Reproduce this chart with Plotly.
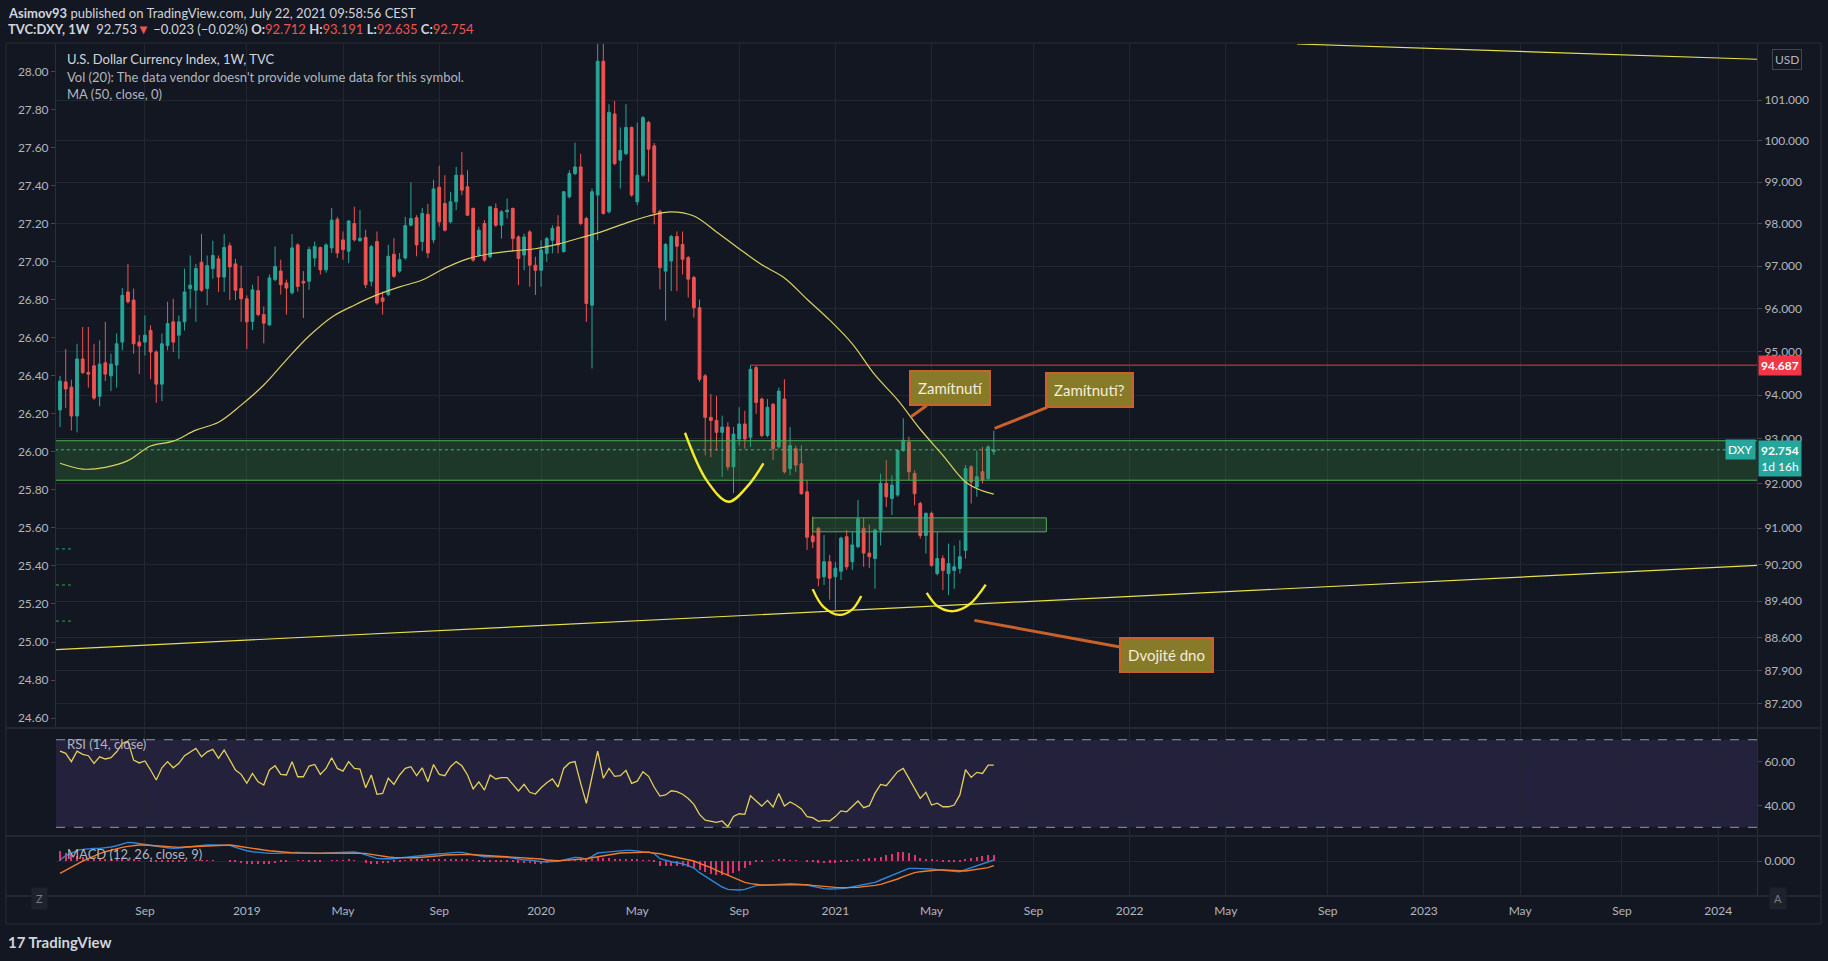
import math
import pandas as pd
import plotly.graph_objects as go

BG = "#131722"
GRID = "#222633"
FRAME = "#2a2e39"
UP = "#26a69a"
DOWN = "#ef5350"
TXT = "#b2b5be"

# weekly DXY candles, 2018-05-21 .. 2021-07-19
FIRST_WEEK = "2018-05-21"
N_WEEKS = 166

opens = [
    93.66, 94.30, 94.18, 93.52, 94.83, 94.52, 94.67, 93.97, 94.74, 94.44,
    94.69, 95.22, 96.39, 96.20, 95.22, 95.22, 95.49, 94.99, 94.25, 95.14,
    95.69, 95.38, 95.69, 96.47, 96.43, 97.09, 96.47, 96.94, 97.17, 96.74,
    97.48, 97.05, 96.47, 96.23, 95.70, 96.42, 95.86, 95.62, 96.68, 96.88,
    96.60, 96.37, 97.50, 96.64, 96.64, 97.19, 97.44, 96.91, 97.43, 98.11,
    97.62, 97.35, 98.01, 97.60, 97.68, 96.64, 97.58, 96.25, 96.33, 97.28,
    96.88, 97.19, 97.97, 98.15, 97.58, 98.23, 97.62, 98.88, 98.49, 98.05,
    98.53, 99.17, 98.89, 98.37, 97.26, 98.01, 97.22, 98.37, 97.97, 98.29,
    98.37, 97.69, 97.26, 97.81, 97.02, 96.90, 97.30, 97.61, 97.93, 97.34,
    98.65, 99.21, 99.37, 98.13, 96.08, 98.69, 101.96, 98.29, 100.66, 99.53,
    99.69, 100.33, 98.53, 99.17, 100.45, 99.88, 98.30, 96.88, 97.12, 97.70,
    97.51, 97.20, 96.73, 96.02, 94.44, 93.49, 93.42, 93.15, 93.27, 92.37,
    93.00, 93.34, 93.04, 94.63, 93.91, 93.08, 93.79, 92.82, 93.91, 92.33,
    92.78, 92.44, 91.81, 90.83, 91.00, 89.93, 90.26, 89.93, 90.05, 90.81,
    90.26, 90.59, 91.00, 90.45, 90.33, 90.96, 92.00, 91.66, 91.74, 92.74,
    92.93, 92.22, 91.55, 90.84, 91.33, 90.00, 90.33, 90.00, 90.07, 90.11,
    90.51, 92.37, 91.92, 92.26, 92.11, 92.712,
]
highs = [
    94.44, 95.06, 94.35, 95.18, 95.57, 95.57, 95.18, 95.26, 95.69, 94.95,
    95.42, 96.48, 97.05, 96.47, 95.38, 95.84, 95.61, 95.03, 95.42, 96.16,
    96.23, 95.84, 96.94, 97.25, 97.05, 97.76, 97.25, 97.60, 97.25, 97.76,
    97.56, 97.17, 97.01, 96.31, 96.56, 96.76, 96.05, 96.80, 97.46, 97.15,
    96.68, 97.76, 97.54, 96.88, 97.46, 97.58, 97.46, 97.54, 98.38, 98.17,
    97.82, 98.09, 98.41, 98.33, 97.86, 97.50, 97.82, 96.40, 97.50, 97.66,
    97.31, 98.17, 99.00, 98.21, 98.38, 98.48, 99.06, 99.40, 99.17, 98.77,
    99.37, 99.73, 99.29, 98.39, 97.93, 98.09, 98.43, 98.49, 98.33, 98.61,
    98.39, 97.73, 97.77, 97.85, 97.22, 97.61, 97.69, 97.97, 98.21, 98.79,
    99.29, 99.96, 99.69, 98.17, 98.85, 102.99, 102.41, 100.90, 100.98, 100.33,
    100.90, 100.35, 100.45, 100.61, 100.49, 99.95, 98.34, 97.55, 97.74, 97.82,
    97.82, 97.24, 96.77, 96.21, 94.48, 94.02, 93.98, 93.53, 93.38, 93.27,
    93.72, 93.64, 94.687, 94.67, 93.94, 93.91, 93.82, 94.17, 94.36, 93.27,
    92.85, 92.85, 92.07, 91.26, 91.02, 90.85, 90.41, 90.26, 90.81, 90.96,
    90.92, 91.63, 91.23, 91.08, 90.99, 92.22, 92.52, 92.18, 92.76, 93.47,
    93.05, 92.29, 91.59, 91.35, 91.37, 90.92, 90.40, 90.66, 90.62, 90.73,
    92.41, 92.41, 92.74, 92.82, 92.86, 93.191,
]
lows = [
    93.27, 93.70, 93.19, 93.15, 94.48, 94.17, 93.89, 93.74, 94.32, 94.09,
    94.17, 95.03, 96.12, 94.95, 94.48, 94.91, 94.36, 93.82, 93.86, 95.03,
    94.99, 94.83, 95.49, 96.00, 95.69, 96.39, 96.08, 96.70, 96.39, 96.39,
    96.20, 96.20, 95.69, 95.06, 95.50, 95.82, 95.19, 95.60, 96.64, 96.33,
    95.86, 96.33, 96.40, 95.78, 96.44, 96.99, 96.80, 96.84, 97.31, 97.19,
    97.15, 97.07, 97.58, 97.58, 96.48, 96.52, 96.09, 95.86, 96.29, 96.72,
    96.84, 97.15, 97.94, 97.23, 97.35, 97.19, 97.54, 97.94, 97.82, 98.01,
    98.33, 98.69, 98.19, 97.10, 97.22, 97.10, 97.18, 97.93, 97.65, 98.13,
    97.34, 96.55, 96.90, 96.51, 96.32, 96.51, 97.10, 97.30, 97.30, 97.32,
    98.61, 99.17, 97.97, 95.69, 94.61, 97.61, 98.22, 98.25, 99.41, 98.85,
    99.65, 98.65, 98.45, 99.13, 99.01, 97.99, 96.45, 95.72, 96.41, 96.41,
    96.80, 96.26, 95.79, 94.30, 92.63, 92.59, 92.74, 92.14, 92.29, 91.78,
    92.85, 92.78, 92.82, 93.57, 93.04, 93.04, 92.52, 92.78, 92.22, 92.18,
    92.26, 91.74, 90.52, 90.56, 89.72, 89.75, 89.43, 89.21, 89.86, 90.08,
    90.08, 90.56, 90.15, 90.12, 89.67, 90.62, 91.47, 91.29, 91.70, 92.71,
    92.07, 91.51, 90.77, 90.44, 90.15, 89.96, 89.64, 89.53, 89.67, 90.00,
    90.33, 91.55, 91.70, 92.00, 92.07, 92.635,
]
closes = [
    94.32, 94.14, 93.52, 94.83, 94.52, 94.48, 93.93, 94.71, 94.48, 94.71,
    95.18, 96.31, 96.16, 95.18, 95.13, 95.38, 94.99, 94.25, 95.18, 95.65,
    95.22, 95.69, 96.39, 96.55, 96.94, 96.43, 97.01, 97.25, 96.74, 97.44,
    96.98, 96.43, 96.23, 95.69, 96.44, 95.86, 95.66, 96.72, 96.99, 96.56,
    96.48, 97.43, 96.52, 96.60, 97.39, 97.46, 96.91, 97.50, 98.09, 97.31,
    97.39, 98.07, 97.62, 97.66, 96.56, 97.46, 96.13, 96.17, 97.23, 96.76,
    97.15, 97.96, 98.13, 97.50, 98.25, 97.31, 98.84, 98.05, 97.85, 98.53,
    99.17, 98.81, 98.21, 97.14, 97.85, 97.14, 98.41, 97.97, 98.29, 98.33,
    97.65, 97.18, 97.69, 97.02, 96.90, 97.38, 97.65, 97.89, 97.50, 98.77,
    99.21, 99.37, 98.01, 96.12, 98.77, 101.96, 98.25, 100.70, 99.45, 99.77,
    100.33, 98.69, 99.17, 100.57, 99.80, 98.27, 96.96, 97.51, 97.70, 97.47,
    97.16, 96.69, 96.02, 94.36, 93.49, 93.42, 93.15, 93.27, 92.37, 93.11,
    93.34, 93.00, 94.59, 93.83, 93.08, 93.72, 92.78, 94.09, 92.26, 92.85,
    92.41, 91.77, 90.80, 90.70, 89.90, 90.26, 89.90, 90.12, 90.78, 90.15,
    90.63, 91.21, 90.45, 90.37, 90.96, 92.00, 91.70, 91.96, 92.74, 92.97,
    92.26, 91.77, 90.84, 91.33, 90.18, 90.33, 90.07, 90.22, 90.15, 90.37,
    92.33, 92.03, 92.15, 92.07, 92.82, 92.754,
]

# MA(50) read at every 4th candle (1-based candle numbers)
ma_candles = list(range(1, 162, 4)) + [164, 166]
ma_values = [
    92.45, 92.32, 92.36, 92.51, 92.84, 92.95, 93.20, 93.38, 93.77, 94.23,
    94.81, 95.36, 95.80, 96.08, 96.32, 96.51, 96.67, 96.95, 97.17, 97.29,
    97.36, 97.41, 97.52, 97.67, 97.83, 98.02, 98.19, 98.29, 98.19, 97.81,
    97.41, 97.03, 96.72, 96.22, 95.73, 95.18, 94.46, 93.89, 93.22, 92.63,
    92.03, 91.83, 91.76,
]

rsi = [
    64.8, 63.8, 60.0, 64.8, 63.3, 62.7, 59.2, 62.2, 61.2, 61.8,
    64.5, 68.3, 69.4, 60.7, 59.4, 60.3, 56.2, 51.6, 57.2, 60.0,
    57.2, 59.2, 62.7, 64.5, 66.0, 62.2, 64.5, 65.6, 61.5, 65.3,
    60.7, 56.2, 54.2, 50.1, 54.6, 50.8, 49.3, 56.2, 58.1, 54.2,
    53.9, 60.0, 53.1, 53.1, 58.0, 58.7, 54.2, 56.9, 61.8, 56.9,
    55.7, 60.0, 56.9, 56.6, 48.1, 53.9, 45.1, 45.5, 52.4, 49.6,
    53.9, 56.9, 57.7, 53.6, 57.2, 50.8, 58.7, 54.2, 53.6, 57.7,
    60.0, 58.1, 53.9, 47.5, 50.8, 47.0, 53.9, 52.1, 52.7, 52.7,
    49.6, 46.6, 49.6, 46.0, 45.2, 48.1, 50.4, 52.1, 48.4, 56.9,
    59.4, 60.0, 50.1, 41.0, 53.1, 64.8, 52.4, 56.9, 53.3, 53.6,
    56.0, 50.1, 51.1, 55.4, 53.3, 48.3, 44.3, 44.8, 46.7, 46.3,
    45.1, 43.2, 40.5, 35.9, 33.3, 32.9, 32.3, 32.9, 30.3, 35.0,
    36.2, 35.9, 44.4, 42.0, 39.7, 42.3, 39.3, 45.4, 39.7, 41.6,
    40.2, 38.4, 34.9, 34.4, 32.7, 33.2, 32.9, 34.9, 37.5, 37.1,
    39.7, 42.0, 39.0, 39.9, 45.5, 49.6, 49.0, 52.1, 55.4, 56.9,
    52.1, 47.8, 43.2, 46.0, 40.2, 41.0, 39.4, 39.4, 40.2, 44.8,
    56.3, 52.8, 55.1, 54.6, 58.4, 58.4,
]

macd = [
    0.03, 0.16, 0.23, 0.32, 0.35, 0.37, 0.38, 0.38, 0.39, 0.42,
    0.46, 0.52, 0.56, 0.55, 0.52, 0.49, 0.47, 0.44, 0.42, 0.40,
    0.38, 0.39, 0.41, 0.43, 0.45, 0.47, 0.48, 0.48, 0.48, 0.48,
    0.47, 0.41, 0.35, 0.31, 0.28, 0.26, 0.24, 0.23, 0.23, 0.23,
    0.24, 0.25, 0.26, 0.25, 0.23, 0.23, 0.23, 0.24, 0.25, 0.26,
    0.27, 0.28, 0.27, 0.24, 0.18, 0.12, 0.08, 0.07, 0.06, 0.07,
    0.09, 0.11, 0.13, 0.16, 0.17, 0.18, 0.20, 0.22, 0.23, 0.25,
    0.26, 0.26, 0.23, 0.20, 0.16, 0.13, 0.13, 0.13, 0.12, 0.11,
    0.09, 0.06, 0.03, 0.03, 0.00, -0.02, -0.02, -0.02, -0.01, 0.03,
    0.07, 0.11, 0.10, 0.05, 0.14, 0.24, 0.26, 0.28, 0.29, 0.31,
    0.32, 0.32, 0.29, 0.28, 0.27, 0.22, 0.07, 0.02, -0.02, -0.05,
    -0.08, -0.14, -0.21, -0.35, -0.46, -0.58, -0.69, -0.78, -0.85, -0.86,
    -0.87, -0.85, -0.79, -0.74, -0.73, -0.72, -0.71, -0.68, -0.67, -0.68,
    -0.69, -0.70, -0.72, -0.76, -0.80, -0.83, -0.84, -0.84, -0.83, -0.81,
    -0.78, -0.74, -0.71, -0.68, -0.64, -0.57, -0.50, -0.42, -0.34, -0.28,
    -0.22, -0.22, -0.22, -0.23, -0.24, -0.26, -0.28, -0.30, -0.31, -0.32,
    -0.26, -0.20, -0.14, -0.08, -0.02, 0.03,
]
signal = [
    -0.37, -0.27, -0.18, -0.09, 0.00, 0.08, 0.15, 0.22, 0.28, 0.33,
    0.37, 0.41, 0.44, 0.47, 0.48, 0.48, 0.47, 0.45, 0.43, 0.42,
    0.41, 0.41, 0.42, 0.43, 0.44, 0.45, 0.46, 0.47, 0.48, 0.48,
    0.48, 0.46, 0.43, 0.40, 0.37, 0.35, 0.33, 0.31, 0.29, 0.27,
    0.26, 0.25, 0.24, 0.24, 0.24, 0.24, 0.24, 0.24, 0.24, 0.24,
    0.25, 0.25, 0.25, 0.24, 0.23, 0.20, 0.17, 0.14, 0.12, 0.11,
    0.10, 0.10, 0.10, 0.10, 0.11, 0.12, 0.14, 0.16, 0.18, 0.19,
    0.20, 0.20, 0.20, 0.19, 0.18, 0.17, 0.16, 0.15, 0.14, 0.13,
    0.12, 0.11, 0.10, 0.10, 0.08, 0.06, 0.03, 0.01, 0.01, 0.02,
    0.03, 0.04, 0.05, 0.07, 0.10, 0.13, 0.16, 0.20, 0.22, 0.24,
    0.25, 0.26, 0.26, 0.26, 0.26, 0.25, 0.22, 0.18, 0.14, 0.11,
    0.08, 0.04, 0.00, -0.07, -0.13, -0.20, -0.28, -0.35, -0.43, -0.50,
    -0.58, -0.64, -0.68, -0.71, -0.72, -0.72, -0.72, -0.72, -0.71, -0.70,
    -0.70, -0.70, -0.71, -0.73, -0.75, -0.77, -0.79, -0.79, -0.80, -0.80,
    -0.80, -0.79, -0.77, -0.76, -0.73, -0.70, -0.65, -0.60, -0.54, -0.47,
    -0.40, -0.35, -0.32, -0.30, -0.28, -0.27, -0.27, -0.27, -0.28, -0.29,
    -0.30, -0.28, -0.26, -0.23, -0.20, -0.14,
]
hist = [
    0.30, 0.25, 0.20, 0.15, 0.12, 0.10, 0.08, 0.06, 0.04, 0.03,
    0.03, 0.04, 0.04, 0.03, 0.01, 0.00, -0.01, -0.01, -0.01, -0.01,
    -0.02, -0.02, -0.01, 0.00, 0.01, 0.02, 0.02, 0.01, 0.00, 0.00,
    -0.01, -0.04, -0.07, -0.09, -0.09, -0.09, -0.09, -0.08, -0.06, -0.04,
    -0.02, 0.00, 0.02, 0.01, -0.01, -0.01, -0.01, 0.00, 0.01, 0.02,
    0.02, 0.03, 0.02, 0.00, -0.05, -0.08, -0.09, -0.07, -0.06, -0.04,
    -0.01, 0.01, 0.03, 0.06, 0.06, 0.06, 0.06, 0.06, 0.05, 0.06,
    0.06, 0.06, 0.03, 0.01, -0.02, -0.04, -0.03, -0.02, -0.02, -0.02,
    -0.03, -0.05, -0.07, -0.07, -0.08, -0.08, -0.05, -0.03, -0.02, 0.01,
    0.04, 0.07, 0.05, -0.02, 0.04, 0.11, 0.10, 0.08, 0.07, 0.07,
    0.07, 0.06, 0.03, 0.02, 0.01, -0.03, -0.15, -0.16, -0.16, -0.16,
    -0.16, -0.18, -0.21, -0.28, -0.33, -0.38, -0.41, -0.43, -0.42, -0.36,
    -0.29, -0.21, -0.11, -0.03, -0.01, 0.00, 0.01, 0.04, 0.04, 0.02,
    0.01, 0.00, -0.01, -0.03, -0.05, -0.06, -0.05, -0.05, -0.03, -0.01,
    0.02, 0.05, 0.06, 0.08, 0.09, 0.13, 0.17, 0.22, 0.26, 0.27,
    0.24, 0.17, 0.10, 0.07, 0.04, 0.01, -0.01, -0.03, -0.03, -0.03,
    0.04, 0.08, 0.12, 0.15, 0.18, 0.17,
]

# drawn levels / zones / trend lines
X_RANGE = ["2018-05-16", "2024-02-18"]
PRICE_RANGE = [86.70, 102.39]
LEFT_RANGE = [24.553, 28.146]
RESIST = 94.687
LAST = 92.754
ZONE = [92.07, 92.96]
SMALL_ZONE = [90.92, 91.23]
SMALL_ZONE_X = ["2020-12-07", "2021-09-22"]
RED_START = "2020-09-21"
TREND_LOW_X = ["2018-05-16", "2024-02-18"]
TREND_LOW_Y = [88.35, 90.18]
TREND_TOP_X = ["2022-07-29", "2024-02-18"]
TREND_TOP_Y = [102.39, 102.01]
LEFT_MARKS = [25.49, 25.30, 25.11]
ARCS = [
    (["2020-07-02", "2020-07-29", "2020-08-25", "2020-09-18", "2020-10-07"],
     [93.14, 92.06, 91.59, 91.95, 92.45]),
    (["2020-12-07", "2020-12-20", "2021-01-09", "2021-01-25", "2021-02-05"],
     [89.66, 89.28, 89.10, 89.22, 89.51]),
    (["2021-04-27", "2021-05-11", "2021-05-30", "2021-06-19", "2021-07-09"],
     [89.58, 89.28, 89.18, 89.33, 89.76]),
]

price_ticks = [87.2, 87.9, 88.6, 89.4, 90.2, 91, 92, 93, 94, 95, 96, 97, 98, 99, 100, 101]
left_ticks = [round(24.6 + 0.2 * i, 2) for i in range(18)]
time_ticks = ["2018-09-03", "2019-01-07", "2019-05-06", "2019-09-02", "2020-01-06", "2020-05-04",
              "2020-09-07", "2021-01-04", "2021-05-03", "2021-09-06", "2022-01-03", "2022-05-02",
              "2022-09-05", "2023-01-02", "2023-05-01", "2023-09-04", "2024-01-01"]
time_labels = ["Sep", "2019", "May", "Sep", "2020", "May", "Sep", "2021", "May", "Sep",
               "2022", "May", "Sep", "2023", "May", "Sep", "2024"]

dates = pd.date_range(FIRST_WEEK, periods=N_WEEKS, freq="7D")
ma_dates = [dates[i - 1] for i in ma_candles]

fig = go.Figure()

# zones drawn first so candles sit on top
zone_fill = "rgba(56,142,60,0.28)"
fig.add_trace(go.Scatter(x=["2018-01-01", "2025-01-01", "2025-01-01", "2018-01-01", "2018-01-01"],
                         y=[ZONE[0], ZONE[0], ZONE[1], ZONE[1], ZONE[0]], mode="lines",
                         fill="toself", fillcolor=zone_fill,
                         line=dict(color="#4caf50", width=1), hoverinfo="skip"))
fig.add_trace(go.Scatter(x=[SMALL_ZONE_X[0], SMALL_ZONE_X[1], SMALL_ZONE_X[1], SMALL_ZONE_X[0], SMALL_ZONE_X[0]],
                         y=[SMALL_ZONE[0], SMALL_ZONE[0], SMALL_ZONE[1], SMALL_ZONE[1], SMALL_ZONE[0]],
                         mode="lines", fill="toself", fillcolor=zone_fill,
                         line=dict(color="#4caf50", width=1), hoverinfo="skip"))
fig.add_trace(go.Scatter(x=["2018-01-01", "2025-01-01"], y=[LAST, LAST], mode="lines",
                         line=dict(color="#3fb68b", width=1, dash="dot"), hoverinfo="skip"))
fig.add_trace(go.Scatter(x=[RED_START, "2025-01-01"], y=[RESIST, RESIST], mode="lines",
                         line=dict(color="#f23645", width=1), hoverinfo="skip"))
fig.add_trace(go.Scatter(x=TREND_LOW_X, y=TREND_LOW_Y, mode="lines",
                         line=dict(color="#e8e04a", width=1.2), hoverinfo="skip"))
fig.add_trace(go.Scatter(x=TREND_TOP_X, y=TREND_TOP_Y, mode="lines",
                         line=dict(color="#e8e04a", width=1.2), hoverinfo="skip"))

fig.add_trace(go.Candlestick(
    x=dates, open=opens, high=highs, low=lows, close=closes,
    increasing=dict(line=dict(color=UP, width=1), fillcolor=UP),
    decreasing=dict(line=dict(color=DOWN, width=1), fillcolor=DOWN),
    whiskerwidth=0, hoverinfo="skip"))

fig.add_trace(go.Scatter(x=ma_dates, y=ma_values, mode="lines", line=dict(color="#d9d163", width=1.2),
                         line_shape="spline", hoverinfo="skip"))

for ax_, ay_ in ARCS:
    fig.add_trace(go.Scatter(x=ax_, y=ay_, mode="lines", line=dict(color="#f5ea2a", width=2.4),
                             line_shape="spline", hoverinfo="skip"))

# left scale: little green marks next to it
for lv in LEFT_MARKS:
    fig.add_trace(go.Scatter(x=["2018-05-16", "2018-06-06"], y=[lv, lv], yaxis="y2", mode="lines",
                             line=dict(color="#22ab4a", width=1, dash="3px,3px"), hoverinfo="skip"))

# RSI pane
fig.add_trace(go.Scatter(x=dates, y=rsi, yaxis="y3", mode="lines",
                         line=dict(color="#e3cf5b", width=1.3), hoverinfo="skip"))

# MACD pane
fig.add_trace(go.Bar(x=dates, y=hist, yaxis="y4", marker_color="#e0336e",
                     marker_line_width=0, width=1.3 * 86400000, hoverinfo="skip"))
fig.add_trace(go.Scatter(x=dates, y=macd, yaxis="y4", mode="lines",
                         line=dict(color="#2f86d6", width=1.4), hoverinfo="skip"))
fig.add_trace(go.Scatter(x=dates, y=signal, yaxis="y4", mode="lines",
                         line=dict(color="#f07b2b", width=1.4), hoverinfo="skip"))

axis_font = dict(color=TXT, size=12)
fig.update_layout(
    width=1828, height=961,
    paper_bgcolor=BG, plot_bgcolor=BG,
    margin=dict(l=56, r=71, t=44, b=65),
    showlegend=False,
    font=dict(family="Lato, Open Sans, sans-serif", color=TXT, size=12),
    xaxis=dict(type="date", range=X_RANGE, anchor="y4", domain=[0, 1],
               tickvals=time_ticks, ticktext=time_labels, tickfont=axis_font,
               showgrid=True, gridcolor=GRID, zeroline=False, showline=False,
               ticks="outside", ticklen=4, tickcolor=BG,
               rangeslider=dict(visible=False)),
    yaxis=dict(domain=[0.1984, 1], type="log",
               range=[math.log10(PRICE_RANGE[0]), math.log10(PRICE_RANGE[1])],
               side="right", anchor="x", tickvals=price_ticks,
               ticktext=["%.3f" % v for v in price_ticks], tickfont=axis_font,
               showgrid=True, gridcolor=GRID, zeroline=False,
               ticks="outside", ticklen=4, tickcolor="#434651",
               showline=True, linecolor=FRAME),
    yaxis2=dict(overlaying="y", side="left", anchor="x", range=LEFT_RANGE,
                tickvals=left_ticks, ticktext=["%.2f" % v for v in left_ticks],
                tickfont=axis_font, showgrid=False, zeroline=False,
                ticks="outside", ticklen=4, tickcolor="#434651",
                showline=True, linecolor=FRAME),
    yaxis3=dict(domain=[0.0716, 0.196], anchor="x", side="right", range=[26.5, 74.9],
                tickvals=[40, 60], ticktext=["40.00", "60.00"], tickfont=axis_font,
                showgrid=True, gridcolor=GRID, zeroline=False,
                ticks="outside", ticklen=4, tickcolor="#434651",
                showline=True, linecolor=FRAME),
    yaxis4=dict(domain=[0, 0.0692], anchor="x", side="right", range=[-1.05, 0.72],
                tickvals=[0], ticktext=["0.000"], tickfont=axis_font,
                showgrid=True, gridcolor=GRID, zeroline=False,
                ticks="outside", ticklen=4, tickcolor="#434651",
                showline=True, linecolor=FRAME),
    bargap=0,
)

# RSI band and levels
fig.add_shape(type="rect", xref="paper", yref="y3", x0=0, x1=1, y0=30, y1=70,
              fillcolor="rgba(126,87,194,0.16)", line_width=0, layer="below")
for lvl in (30, 70):
    fig.add_shape(type="line", xref="paper", yref="y3", x0=0, x1=1, y0=lvl, y1=lvl,
                  line=dict(color="#9598a1", width=1, dash="dash"))

# pane frame and separators
fig.add_shape(type="rect", xref="paper", yref="paper", x0=-0.0294, x1=1.0376, y0=-0.0329, y1=1.0012,
              line=dict(color=FRAME, width=1))
for yy in (0.1972, 0.0704, 0.0):
    fig.add_shape(type="line", xref="paper", yref="paper", x0=-0.0294, x1=1.0376, y0=yy, y1=yy,
                  line=dict(color=FRAME, width=1.5))

ann = []
ann.append(dict(x=-0.0294, y=1.0364, xref="paper", yref="paper", xanchor="left", yanchor="middle",
                text="<b>Asimov93</b> published on TradingView.com, July 22, 2021 09:58:56 CEST",
                font=dict(size=13, color="#d1d4dc"), showarrow=False))
red = "<span style='color:#ef5350'>%s</span>"
ann.append(dict(x=-0.0294, y=1.0176, xref="paper", yref="paper", xanchor="left", yanchor="middle",
                text="<b>TVC:DXY, 1W</b>  92.753" + red % "▼" + " −0.023 (−0.02%) "
                     + "<b>O:</b>" + red % "92.712" + " <b>H:</b>" + red % "93.191"
                     + " <b>L:</b>" + red % "92.635" + " <b>C:</b>" + red % "92.754",
                font=dict(size=13, color="#d1d4dc"), showarrow=False))
legend_lines = [(0.9824, "U.S. Dollar Currency Index, 1W, TVC", "#d1d4dc"),
                (0.9613, "Vol (20): The data vendor doesn't provide volume data for this symbol.", TXT),
                (0.9413, "MA (50, close, 0)", TXT),
                (0.1784, "RSI (14, close)", TXT),
                (0.0493, "MACD (12, 26, close, 9)", TXT)]
for yy, txt, col in legend_lines:
    ann.append(dict(x=0.0053, y=yy, xref="paper", yref="paper", xanchor="left", yanchor="middle",
                    text=txt, font=dict(size=13, color=col), showarrow=False))

# right axis price labels
ann.append(dict(x=1, y=math.log10(RESIST), xref="paper", yref="y", xanchor="left", yanchor="middle",
                text="<b>94.687</b>", bgcolor="#f23645", font=dict(size=12, color="white"),
                borderpad=2, showarrow=False, xshift=1))
ann.append(dict(x=1, y=math.log10(LAST), xref="paper", yref="y", xanchor="left", yanchor="top",
                text="<b>92.754</b><br>1d 16h", bgcolor="#26a69a", font=dict(size=12, color="white"),
                borderpad=2, showarrow=False, xshift=1, yshift=10, align="right"))
ann.append(dict(x=1, y=math.log10(LAST), xref="paper", yref="y", xanchor="right", yanchor="middle",
                text="DXY", bgcolor="#26a69a", font=dict(size=12, color="white"),
                borderpad=2, showarrow=False, xshift=-1))
ann.append(dict(x=1.0176, y=math.log10(102.0), xref="paper", yref="y", xanchor="center", yanchor="middle",
                text="USD", bgcolor=BG, bordercolor="#434651", borderwidth=1,
                font=dict(size=12, color=TXT), borderpad=2, showarrow=False))

# callouts
callouts = [("Zamítnutí", "2021-04-08", 93.51, 39, -28),
            ("Zamítnutí?", "2021-07-20", 93.24, 95, -38),
            ("Dvojité dno", "2021-06-25", 88.98, 192, 35)]
for txt, dx, py, ox_, oy_ in callouts:
    ann.append(dict(x=dx, y=math.log10(py), xref="x", yref="y", text=txt,
                    showarrow=True, arrowhead=0, arrowwidth=3, arrowcolor="#c9612b",
                    ax=ox_, ay=oy_, bgcolor="#877a28", bordercolor="#c9612b", borderwidth=2,
                    borderpad=7, font=dict(size=15, color="#f3eedb"), standoff=0))

# bottom bits
ann.append(dict(x=-0.0147, y=-0.0164, xref="paper", yref="paper", text="Z", showarrow=False,
                bgcolor="#1e222d", font=dict(size=11, color="#787b86"), borderpad=4))
ann.append(dict(x=1.0176, y=-0.0164, xref="paper", yref="paper", text="A", showarrow=False,
                bgcolor="#1e222d", font=dict(size=11, color="#787b86"), borderpad=4))
ann.append(dict(x=-0.0294, y=-0.054, xref="paper", yref="paper", xanchor="left", yanchor="middle",
                text="<b>17 TradingView</b>", font=dict(size=15, color="#d1d4dc"), showarrow=False))

fig.update_layout(annotations=ann)
# page body has a default 8px margin; drop it so the figure sits at the corner
fig.write_html("out.html", config={"displayModeBar": False},
               post_script="document.body.style.margin='0';document.body.style.background='#131722';")
